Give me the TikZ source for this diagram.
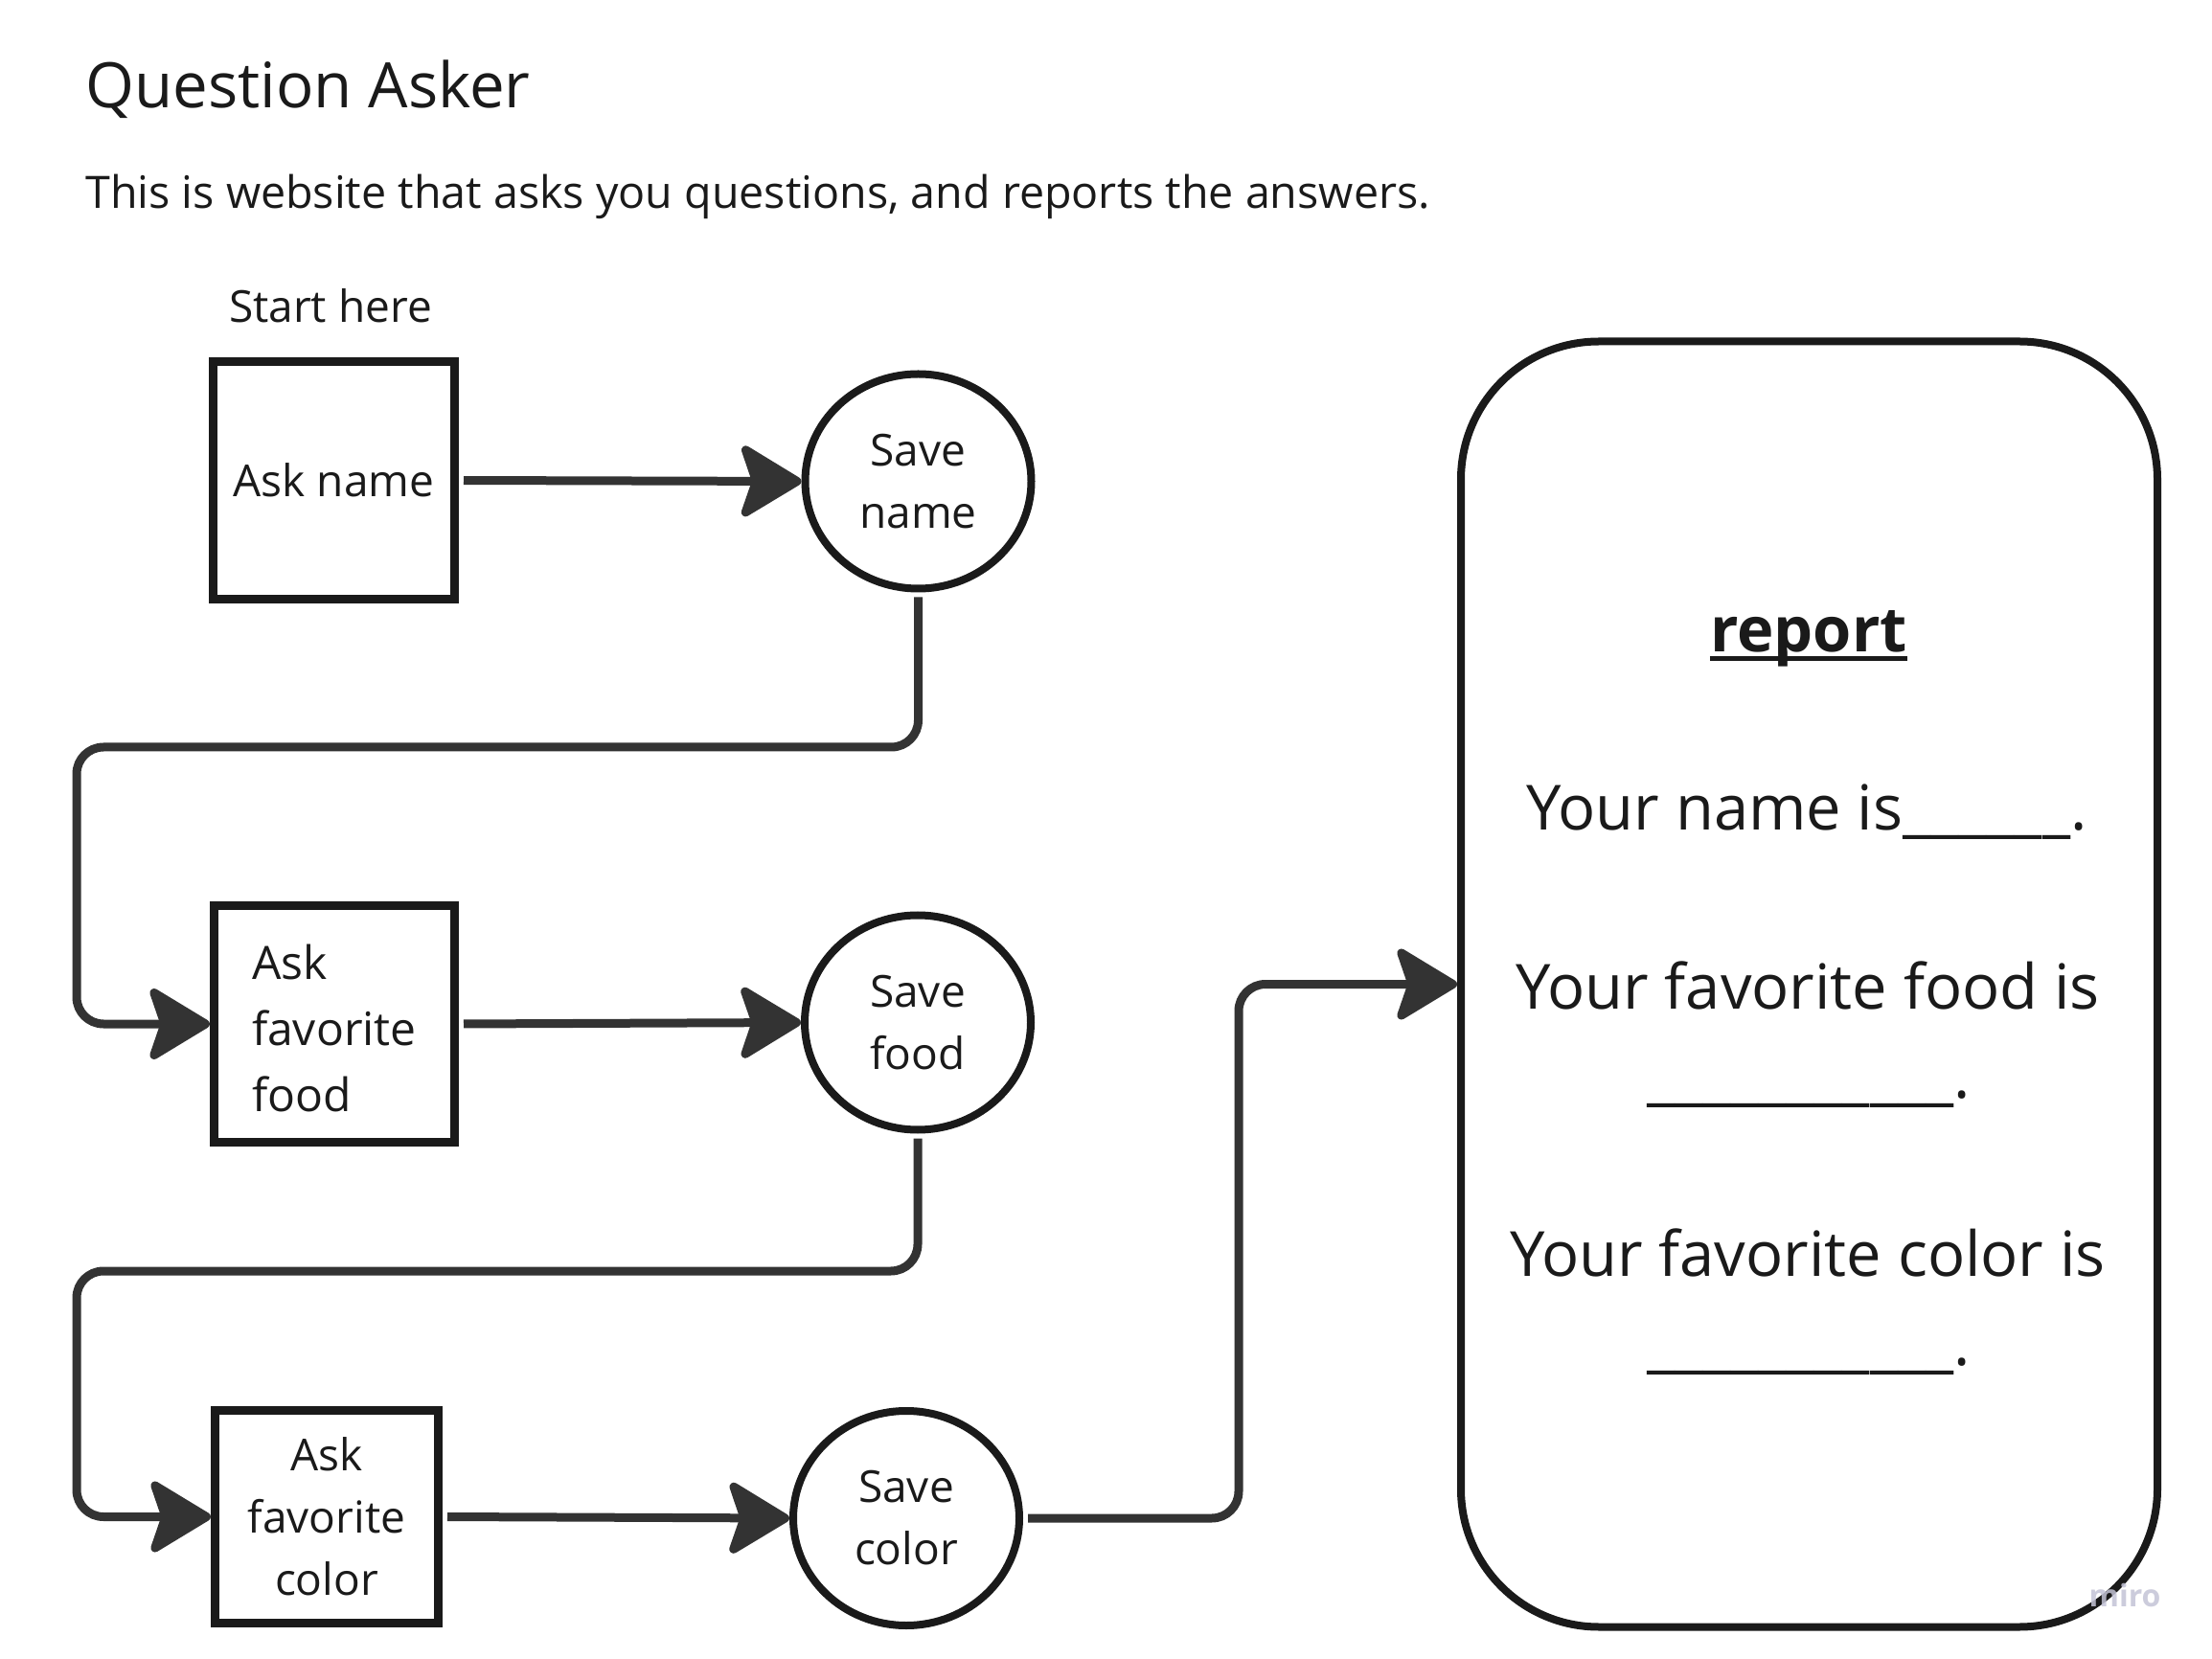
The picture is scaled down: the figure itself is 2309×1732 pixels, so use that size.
\documentclass[tikz,border=0pt]{standalone}
\usepackage{fontspec}
\setmainfont{Open Sans}
\usetikzlibrary{arrows.meta,shapes.geometric}
\definecolor{ink}{HTML}{1A1A1A}
\definecolor{wire}{HTML}{333333}
\definecolor{wm}{HTML}{C4C4D6}
\begin{document}
\begin{tikzpicture}[x=0.5pt,y=-0.5pt,
  txt/.style={inner sep=0pt, text=ink},
  small/.style={font=\fontsize{23pt}{32.5pt}\selectfont},
  big/.style={font=\fontsize{32.5pt}{46.5pt}\selectfont},
  sqbox/.style={draw=ink, line width=4.5pt, rectangle, inner sep=0pt, text=ink, small, align=center},
  oval/.style={draw=ink, line width=4pt, ellipse, inner sep=0pt, minimum width=118pt, minimum height=112pt, text=ink, small, align=center},
  conn/.style={draw=wire, line width=4.5pt, rounded corners=14pt, -{Stealth[length=35pt,width=42pt,inset=7pt,round]}, shorten <=2.5pt},
]
\fill[white] (0,0) rectangle (2309,1732);
\useasboundingbox (0,0) rectangle (2309,1732);

% texts
\node[txt, anchor=base west, font=\fontsize{32.7pt}{40pt}\selectfont] (title) at (89,113) {Question Asker};
\node[txt, anchor=base west, font=\fontsize{23.3pt}{32.5pt}\selectfont] (subtitle) at (89,218) {This is website that asks you questions, and reports the answers.};
\node[txt, anchor=base, small] (start) at (345,337) {Start here};

% boxes
\node[sqbox, minimum width=126pt, minimum height=124pt] (askname) at (348.5,501.5) {Ask name};
\node[sqbox, align=left, text width=86pt, inner xsep=19.75pt, minimum height=123.5pt, font=\fontsize{24pt}{34.5pt}\selectfont] (askfood) at (349,1069) {\rule{0pt}{22.5pt}Ask\\favorite\\food};
\node[sqbox, minimum width=116.5pt, minimum height=111pt] (askcolor) at (341,1583.5) {Ask\\favorite\\color};

% circles
\node[oval] (savename) at (958.5,502.5) {Save\\name};
\node[oval] (savefood) at (958,1067.5) {Save\\food};
\node[oval] (savecolor) at (946,1585) {Save\\color};

% report
\node[draw=ink, line width=4pt, rounded corners=72pt, minimum width=363.5pt, minimum height=671pt, inner sep=0pt] (report) at (1888.5,1027.5) {};
\node[txt, anchor=base, big, font=\bfseries\fontsize{32.5pt}{46.5pt}\selectfont] (rephead) at (1888,681) {report};
\draw[ink, line width=2.5pt] ([yshift=-3.5pt]rephead.base west) -- ([yshift=-3.5pt]rephead.base east);
\node[txt, anchor=base, big] (repname) at (1886,867) {Your name is\_\_\_\_\_\_.};
\node[txt, anchor=base, big] (repfood) at (1887,1053) {Your favorite food is};
\node[txt, anchor=base, big] (repfoodb) at (1888,1146) {\_\_\_\_\_\_\_\_\_\_\_.};
\node[txt, anchor=base, big] (repcolor) at (1887,1332) {Your favorite color is};
\node[txt, anchor=base, big] (repcolorb) at (1888,1425) {\_\_\_\_\_\_\_\_\_\_\_.};

% bend points
\coordinate (bend1) at (80,780);
\coordinate (bend2) at (80,1327);
\coordinate (bend3) at (1293,1300);

% connectors
\draw[conn] (askname.east) -- (savename.west);
\draw[conn] (savename.south) |- (bend1) |- (askfood.west);
\draw[conn] (askfood.east) -- (savefood.west);
\draw[conn] (savefood.south) |- (bend2) |- (askcolor.west);
\draw[conn] (askcolor.east) -- (savecolor.west);
\draw[conn] (savecolor.east) -| (bend3) |- (report.west);

% watermark
\node[anchor=base, inner sep=0pt, text=wm, opacity=0.85, font=\bfseries\fontsize{16pt}{20pt}\selectfont] (miro) at (2218,1677) {miro};
\end{tikzpicture}
\end{document}
